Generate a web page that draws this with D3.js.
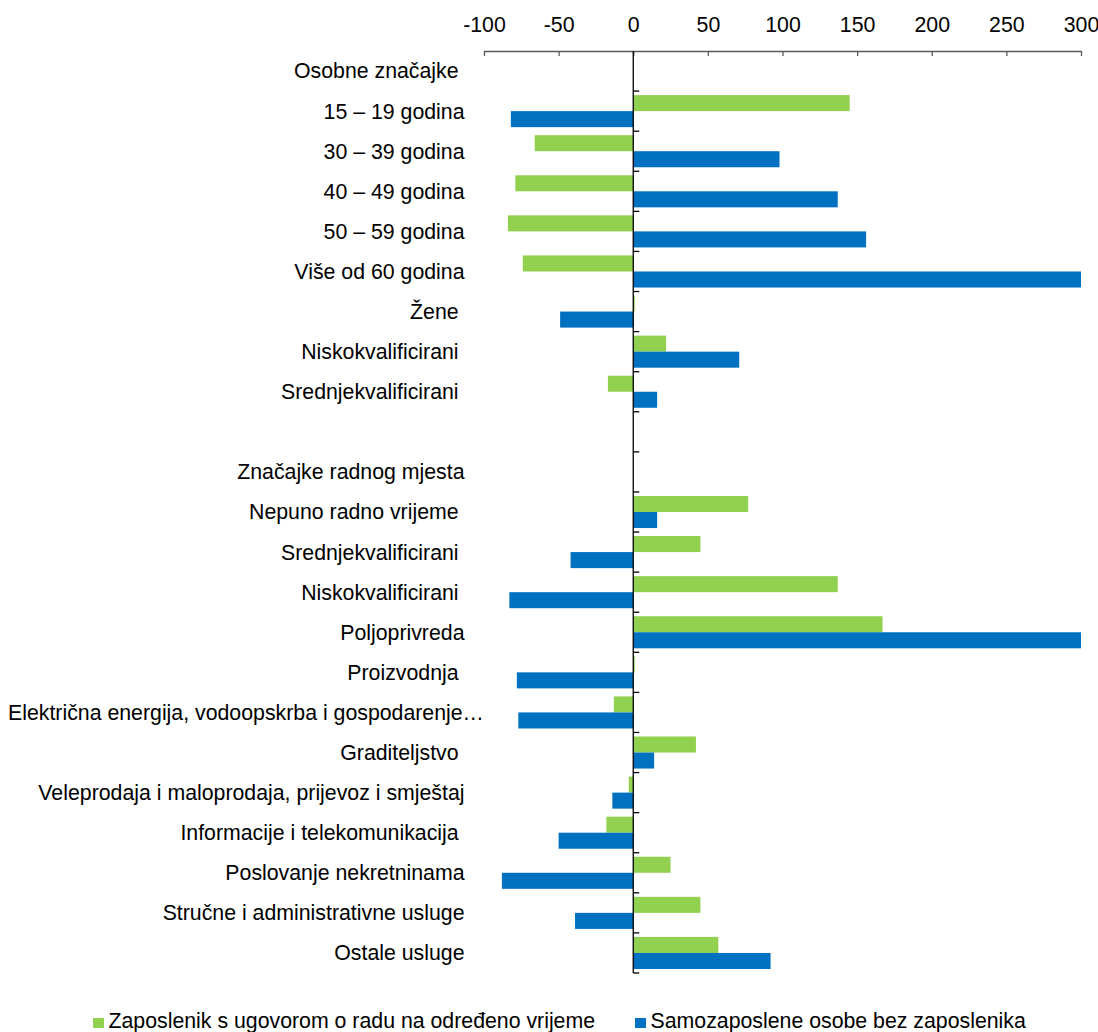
<!DOCTYPE html>
<html>
<head>
<meta charset="utf-8">
<script src="https://cdn.jsdelivr.net/npm/d3@7"></script>
<style>
  html, body { margin: 0; padding: 0; background: #fff; }
  svg { display: block; }
  text { font-family: "Liberation Sans", Arial, sans-serif; fill: #000; }
</style>
</head>
<body>
<svg id="chart" width="1098" height="1032"></svg>
<script>
// Row labels (top to bottom); trailing spaces are part of the source labels
const categories = [
  "Osobne značajke ",
  "15 – 19 godina",
  "30 – 39 godina",
  "40 – 49 godina",
  "50 – 59 godina",
  "Više od 60 godina",
  "Žene ",
  "Niskokvalificirani ",
  "Srednjekvalificirani ",
  "",
  "Značajke radnog mjesta",
  "Nepuno radno vrijeme ",
  "Srednjekvalificirani ",
  "Niskokvalificirani ",
  "Poljoprivreda",
  "Proizvodnja ",
  "Električna energija, vodoopskrba i gospodarenje…",
  "Graditeljstvo ",
  "Veleprodaja i maloprodaja, prijevoz i smještaj",
  "Informacije i telekomunikacija ",
  "Poslovanje nekretninama",
  "Stručne i administrativne usluge",
  "Ostale usluge"
];

const seriesNames = [
  "Zaposlenik s ugovorom o radu na određeno vrijeme",
  "Samozaposlene osobe bez zaposlenika"
];

// Zaposlenik s ugovorom o radu na određeno vrijeme
const fixedTerm = [
  null, 145, -66, -79, -84, -74, 1, 22, -17,
  null, null, 77, 45, 137, 167, 1, -13, 42, -3, -18, 25, 45, 57
];

// Samozaposlene osobe bez zaposlenika
const selfEmployed = [
  null, -82, 98, 137, 156, 300, -49, 71, 16,
  null, null, 16, -42, -83, 300, -78, -77, 14, -14, -50, -88, -39, 92
];

const xTicks = [-100, -50, 0, 50, 100, 150, 200, 250, 300];

const colors = ["#92d050", "#0070c0"];

const svg = d3.select("#chart");
const fontSize = 21.3;

const x = d3.scaleLinear().domain([-100, 300]).range([484, 1081]);
const y = d3.scaleBand()
  .domain(d3.range(categories.length))
  .range([51, 973])
  .paddingInner(0.2)
  .paddingOuter(0.1);
const ySub = d3.scaleBand().domain([0, 1]).range([0, y.bandwidth()]);

// Bars
const series = [fixedTerm, selfEmployed];
const plot = svg.append("g");
series.forEach((vals, si) => {
  plot.append("g").selectAll("rect")
    .data(vals.map((v, i) => ({ v, i })).filter(d => d.v !== null))
    .join("rect")
    .attr("x", d => x(Math.min(0, d.v)))
    .attr("width", d => Math.abs(x(d.v) - x(0)))
    .attr("y", d => y(d.i) + ySub(si))
    .attr("height", ySub.bandwidth())
    .attr("fill", colors[si]);
});

// Top value axis
const xAxis = d3.axisTop(x).tickValues(xTicks).tickFormat(d => String(d))
  .tickSizeOuter(0).tickSizeInner(-5).tickPadding(19);
const gx = svg.append("g").attr("transform", `translate(0,51)`).call(xAxis);
gx.select(".domain").attr("stroke", "#595959").attr("stroke-width", 1.3);
gx.selectAll(".tick line").attr("stroke", "#595959").attr("stroke-width", 1.3);
gx.selectAll(".tick text")
  .attr("font-size", fontSize)
  .attr("font-family", "Liberation Sans, Arial, sans-serif")
  .attr("fill", "#000");

// Vertical category axis at zero with ticks between categories
const x0 = x(0);
const step = y.step();
const boundaries = d3.range(categories.length + 1).map(i => y(0) - step * y.paddingInner() / 2 + i * step);
svg.append("line")
  .attr("x1", x0).attr("x2", x0)
  .attr("y1", 51).attr("y2", boundaries[boundaries.length - 1])
  .attr("stroke", "#000").attr("stroke-width", 1.3);
svg.append("g").selectAll("line")
  .data(boundaries.slice(1))
  .join("line")
  .attr("x1", x0).attr("x2", x0 + 6)
  .attr("y1", d => d).attr("y2", d => d)
  .attr("stroke", "#000").attr("stroke-width", 1.3);

// Category labels, right aligned; labels that would overflow start at the left edge
const labelRight = 464.5;
const labels = svg.append("g").selectAll("text")
  .data(categories.map((c, i) => ({ c, i })))
  .join("text")
  .attr("x", labelRight)
  .attr("y", d => y(d.i) + y.bandwidth() / 2)
  .attr("dy", "0.35em")
  .attr("text-anchor", "end")
  .attr("font-size", fontSize)
  .style("white-space", "pre")
  .text(d => d.c);
labels.each(function () {
  const b = this.getBBox();
  if (b.x < 8) d3.select(this).attr("x", 8).attr("text-anchor", "start");
});

// Legend
const legendX = [93, 635];
const legend = svg.append("g").selectAll("g")
  .data(seriesNames.map((n, i) => ({ n, i })))
  .join("g")
  .attr("transform", d => `translate(${legendX[d.i]},1018)`);
legend.append("rect")
  .attr("width", 11).attr("height", 10)
  .attr("fill", d => colors[d.i]);
legend.append("text")
  .attr("x", 15.5).attr("y", 9.5)
  .attr("font-size", fontSize)
  .text(d => d.n);
</script>
</body>
</html>
